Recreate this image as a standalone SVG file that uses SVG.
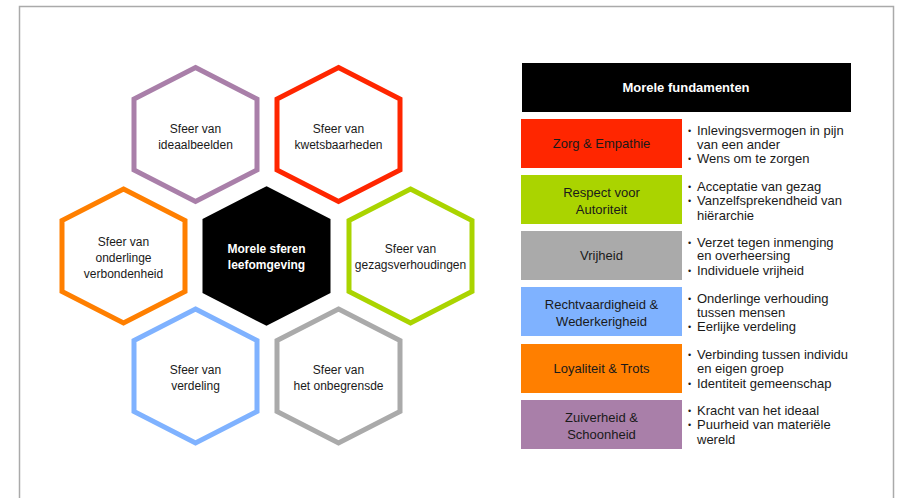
<svg xmlns="http://www.w3.org/2000/svg" width="897" height="498" viewBox="0 0 897 498">
<defs>
<style>
.frame{fill:none;stroke:#aaaaaa;stroke-width:1.5}
.hex{fill:#ffffff;stroke-width:5;stroke-linejoin:miter}
.ht{font-family:"Liberation Sans",Arial,sans-serif;font-size:12px;fill:#1a1a1a;text-anchor:middle}
.hc{font-family:"Liberation Sans",Arial,sans-serif;font-size:12px;font-weight:bold;fill:#ffffff;text-anchor:middle}
.bt{font-family:"Liberation Sans",Arial,sans-serif;font-size:13px;fill:#1a1a1a;text-anchor:middle}
.lt{font-family:"Liberation Sans",Arial,sans-serif;font-size:13px;fill:#1a1a1a}
.bu{font-family:"Liberation Sans",Arial,sans-serif;font-size:9px;fill:#1a1a1a}
.hd{font-family:"Liberation Sans",Arial,sans-serif;font-size:13px;font-weight:bold;fill:#ffffff;text-anchor:middle}
</style>
<polygon id="hexshape" points="0,-67 61.5,-35.5 61.5,35.5 0,67 -61.5,35.5 -61.5,-35.5"/>
</defs>
<rect width="897" height="498" fill="#ffffff"/>
<path class="frame" d="M19.5,498 V6.5 H893.5 V498"/>

<g id="hex-ideaalbeelden">
<use href="#hexshape" x="195.5" y="134.5" class="hex" stroke="#a97fa9"/>
<text class="ht" x="195.5" y="133">Sfeer van</text>
<text class="ht" x="195.5" y="149">ideaalbeelden</text>
</g>
<g id="hex-kwetsbaarheden">
<use href="#hexshape" x="338.5" y="134.5" class="hex" stroke="#ff2600"/>
<text class="ht" x="338.5" y="133">Sfeer van</text>
<text class="ht" x="338.5" y="149">kwetsbaarheden</text>
</g>
<g id="hex-verbondenheid">
<use href="#hexshape" x="123.5" y="256" class="hex" stroke="#ff7f00"/>
<text class="ht" x="123.5" y="246">Sfeer van</text>
<text class="ht" x="123.5" y="262">onderlinge</text>
<text class="ht" x="123.5" y="278">verbondenheid</text>
</g>
<g id="hex-center">
<use href="#hexshape" x="266.5" y="256" class="hex" stroke="#000000" style="fill:#000000"/>
<text class="hc" x="266.5" y="253">Morele sferen</text>
<text class="hc" x="266.5" y="269">leefomgeving</text>
</g>
<g id="hex-gezag">
<use href="#hexshape" x="410.5" y="256" class="hex" stroke="#aad400"/>
<text class="ht" x="410.5" y="253">Sfeer van</text>
<text class="ht" x="410.5" y="269">gezagsverhoudingen</text>
</g>
<g id="hex-verdeling">
<use href="#hexshape" x="195.5" y="376" class="hex" stroke="#7fb2ff"/>
<text class="ht" x="195.5" y="374">Sfeer van</text>
<text class="ht" x="195.5" y="390">verdeling</text>
</g>
<g id="hex-onbegrensde">
<use href="#hexshape" x="338.5" y="376" class="hex" stroke="#aaaaaa"/>
<text class="ht" x="338.5" y="374">Sfeer van</text>
<text class="ht" x="338.5" y="390">het onbegrensde</text>
</g>

<g id="header">
<rect x="522" y="63" width="329" height="49" fill="#000000"/>
<text class="hd" x="686" y="92">Morele fundamenten</text>
</g>

<g id="f-zorg">
<rect x="521" y="119" width="161" height="49" fill="#ff2600"/>
<text class="bt" x="601.5" y="148">Zorg &amp; Empathie</text>
<text class="bu" x="688" y="134">•</text><text class="lt" x="697" y="135">Inlevingsvermogen in pijn</text>
<text class="lt" x="697" y="149">van een ander</text>
<text class="bu" x="688" y="161.5">•</text><text class="lt" x="697" y="162.5">Wens om te zorgen</text>
</g>
<g id="f-respect">
<rect x="521" y="175" width="161" height="49" fill="#aad400"/>
<text class="bt" x="601.5" y="196.5">Respect voor</text>
<text class="bt" x="601.5" y="213.5">Autoriteit</text>
<text class="bu" x="688" y="189.5">•</text><text class="lt" x="697" y="190.5">Acceptatie van gezag</text>
<text class="bu" x="688" y="204">•</text><text class="lt" x="697" y="205">Vanzelfsprekendheid van</text>
<text class="lt" x="697" y="219.5">hiërarchie</text>
</g>
<g id="f-vrijheid">
<rect x="521" y="231" width="161" height="49" fill="#aaaaaa"/>
<text class="bt" x="601.5" y="260">Vrijheid</text>
<text class="bu" x="688" y="245.5">•</text><text class="lt" x="697" y="246.5">Verzet tegen inmenging</text>
<text class="lt" x="697" y="260">en overheersing</text>
<text class="bu" x="688" y="273.5">•</text><text class="lt" x="697" y="274.5">Individuele vrijheid</text>
</g>
<g id="f-recht">
<rect x="521" y="287" width="161" height="49" fill="#7fb2ff"/>
<text class="bt" x="601.5" y="308.5">Rechtvaardigheid &amp;</text>
<text class="bt" x="601.5" y="325.5">Wederkerigheid</text>
<text class="bu" x="688" y="301.5">•</text><text class="lt" x="697" y="302.5">Onderlinge verhouding</text>
<text class="lt" x="697" y="316.5">tussen mensen</text>
<text class="bu" x="688" y="330">•</text><text class="lt" x="697" y="331">Eerlijke verdeling</text>
</g>
<g id="f-loyaliteit">
<rect x="521" y="344" width="161" height="49" fill="#ff7f00"/>
<text class="bt" x="601.5" y="373">Loyaliteit &amp; Trots</text>
<text class="bu" x="688" y="357.5">•</text><text class="lt" x="697" y="358.5">Verbinding tussen individu</text>
<text class="lt" x="697" y="373">en eigen groep</text>
<text class="bu" x="688" y="386.5">•</text><text class="lt" x="697" y="387.5">Identiteit gemeenschap</text>
</g>
<g id="f-zuiverheid">
<rect x="521" y="400" width="161" height="49" fill="#a97fa9"/>
<text class="bt" x="601.5" y="421.5">Zuiverheid &amp;</text>
<text class="bt" x="601.5" y="438.5">Schoonheid</text>
<text class="bu" x="688" y="414">•</text><text class="lt" x="697" y="415">Kracht van het ideaal</text>
<text class="bu" x="688" y="428">•</text><text class="lt" x="697" y="429">Puurheid van materiële</text>
<text class="lt" x="697" y="443.5">wereld</text>
</g>
</svg>
